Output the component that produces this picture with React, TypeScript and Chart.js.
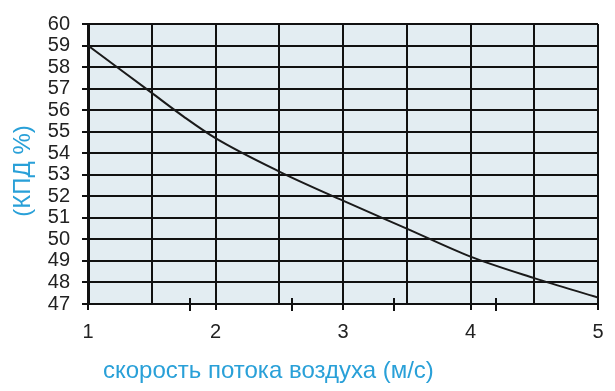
import React, { useEffect, useRef } from "react";
import { Chart, registerables } from "chart.js";

Chart.register(...registerables);

const speeds = [1, 1.25, 1.5, 1.75, 2, 2.5, 3, 3.5, 4, 4.5, 5];
const efficiency = [59, 57.9, 56.8, 55.7, 54.7, 53.15, 51.8, 50.5, 49.2, 48.2, 47.3];
const strayTicks = [1.8, 2.6, 3.4, 4.2];
const xTitle = "скорость потока воздуха (м/с)";
const yTitle = "(КПД %)";

const FONT = "'Liberation Sans', Arial, sans-serif";
const TITLE_COLOR = "#29a0d8";

export default function App() {
  const ref = useRef<HTMLCanvasElement | null>(null);

  useEffect(() => {
    document.body.style.margin = "0";
    const bgPlugin = {
      id: "bg",
      beforeDraw(chart: any) {
        const { ctx, chartArea: a } = chart;
        ctx.save();
        ctx.fillStyle = "#e3edf2";
        ctx.fillRect(a.left, a.top, a.right - a.left, a.bottom - a.top);
        ctx.restore();
      },
      afterDraw(chart: any) {
        const { ctx, chartArea: a } = chart;
        const xs = chart.scales.x;
        ctx.save();
        ctx.strokeStyle = "#111";
        ctx.lineWidth = 2;
        for (const v of strayTicks) {
          const px = Math.round(xs.getPixelForValue(v));
          ctx.beginPath();
          ctx.moveTo(px, a.bottom - 6);
          ctx.lineTo(px, a.bottom + 7);
          ctx.stroke();
        }
        ctx.fillStyle = TITLE_COLOR;
        ctx.font = `24px ${FONT}`;
        ctx.textAlign = "left";
        ctx.textBaseline = "alphabetic";
        ctx.fillText(xTitle, a.left + 15, 378);
        ctx.translate(23, (a.top + a.bottom) / 2 + 7);
        ctx.rotate(-Math.PI / 2);
        ctx.textAlign = "center";
        ctx.textBaseline = "middle";
        ctx.fillText(yTitle, 0, 0);
        ctx.restore();
      },
    };

    const chart = new Chart(ref.current!, {
      type: "line",
      data: {
        datasets: [
          {
            data: speeds.map((s, i) => ({ x: s, y: efficiency[i] })),
            borderColor: "#1a1a1a",
            borderWidth: 2,
            pointRadius: 0,
            cubicInterpolationMode: "monotone",
            fill: false,
          },
        ],
      },
      options: {
        animation: false,
        responsive: false,
        layout: { padding: { left: 0, right: 17, top: 13, bottom: 0 } },
        plugins: { legend: { display: false }, tooltip: { enabled: false } },
        scales: {
          x: {
            type: "linear",
            min: 1,
            max: 5,
            afterFit(scale: any) {
              scale.height = 87;
            },
            ticks: {
              stepSize: 0.5,
              autoSkip: false,
              maxRotation: 0,
              color: "#222",
              font: { family: FONT, size: 20 },
              padding: 10,
              callback: (v: any) => (Number.isInteger(v) ? String(v) : ""),
            },
            grid: {
              color: "#111",
              lineWidth: 2,
              tickLength: 6,
              tickColor: (c: any) =>
                Number.isInteger(c.tick?.value) ? "#111" : "rgba(0,0,0,0)",
            },
            border: { color: "#111", width: 2 },
          },
          y: {
            min: 47,
            max: 60,
            afterFit(scale: any) {
              scale.width = 88;
            },
            ticks: {
              stepSize: 1,
              autoSkip: false,
              color: "#222",
              font: { family: FONT, size: 20 },
              padding: 12,
            },
            grid: { color: "#111", lineWidth: 2, tickLength: 6 },
            border: { color: "#111", width: 3 },
          },
        },
      },
      plugins: [bgPlugin],
    });
    return () => chart.destroy();
  }, []);

  return <canvas ref={ref} width={615} height={391} style={{ display: "block" }} />;
}
